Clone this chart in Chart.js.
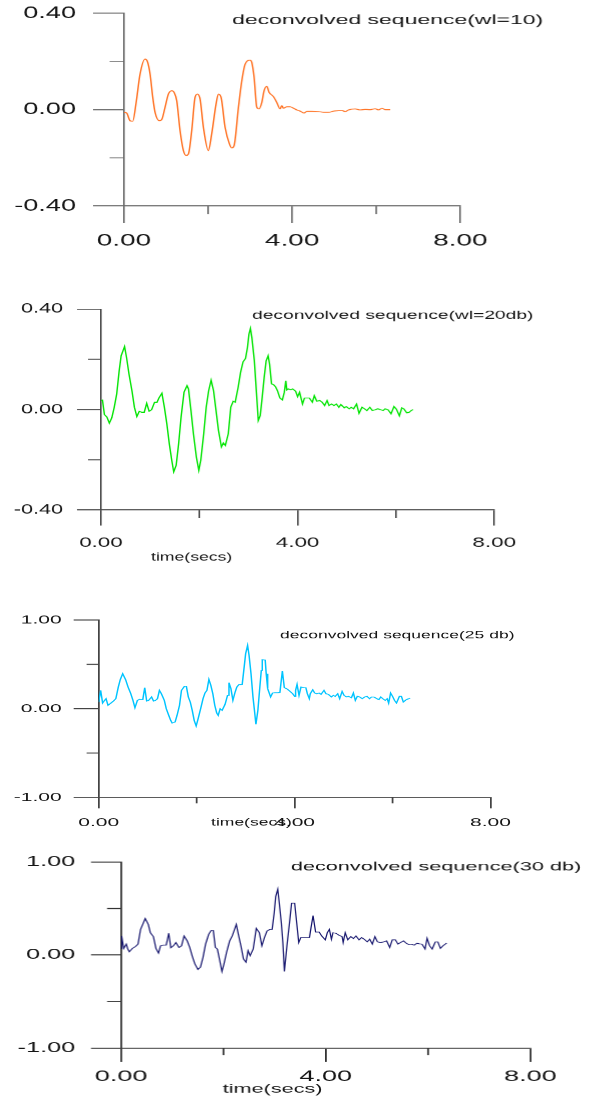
<!DOCTYPE html>
<html><head><meta charset="utf-8">
<script src="https://cdn.jsdelivr.net/npm/chart.js@4.4.1/dist/chart.umd.min.js"></script>
<style>
html,body{margin:0;padding:0;background:#fff;width:595px;height:1096px;overflow:hidden;position:relative;}
.panel{position:absolute;left:0;transform-origin:0 0;}
</style></head><body>
<div id="p1" class="panel"><canvas id="c1"></canvas></div>
<div id="p2" class="panel"><canvas id="c2"></canvas></div>
<div id="p3" class="panel"><canvas id="c3"></canvas></div>
<div id="p4" class="panel"><canvas id="c4"></canvas></div>
<script>
// ---- data (time in secs, amplitude) ----
const t1 = [0,0.063,0.143,0.206,0.286,0.381,0.5,0.556,0.619,0.683,0.738,0.841,0.897,0.976,1.056,1.135,1.19,1.254,1.333,1.413,1.476,1.532,1.611,1.69,1.746,1.81,1.889,2.008,2.087,2.19,2.246,2.31,2.405,2.508,2.563,2.619,2.722,2.802,2.881,3.0,3.04,3.095,3.159,3.214,3.278,3.333,3.397,3.452,3.556,3.635,3.714,3.754,3.794,3.873,3.952,4.032,4.111,4.19,4.286,4.349,4.468,4.627,4.786,4.905,4.984,5.103,5.183,5.262,5.341,5.5,5.619,5.738,5.857,5.976,6.056,6.135,6.214,6.333];
const v1 = [-0.011,-0.014,-0.046,-0.048,0.028,0.148,0.21,0.2,0.148,0.051,-0.011,-0.046,-0.041,0.01,0.065,0.079,0.072,0.037,-0.087,-0.17,-0.19,-0.184,-0.087,0.051,0.065,0.044,-0.073,-0.17,-0.1,0.023,0.065,0.051,-0.073,-0.142,-0.159,-0.149,0.01,0.12,0.189,0.206,0.196,0.134,0.01,0.003,0.03,0.079,0.097,0.072,0.054,0.03,0.003,0.017,0.006,0.012,0.012,0.006,-0.001,-0.006,-0.014,-0.007,-0.007,-0.008,-0.011,-0.01,-0.006,-0.004,-0.003,-0.008,-0.001,0.003,-0.001,0.001,0,0.004,-0.001,0.006,0,0];

const t2 = [0,0.03,0.07,0.12,0.17,0.22,0.27,0.32,0.37,0.41,0.48,0.52,0.57,0.63,0.68,0.73,0.78,0.83,0.88,0.93,0.98,1.03,1.09,1.14,1.18,1.24,1.29,1.34,1.39,1.44,1.48,1.53,1.58,1.63,1.69,1.75,1.78,1.83,1.88,1.94,1.99,2.03,2.09,2.14,2.19,2.24,2.29,2.34,2.39,2.45,2.49,2.53,2.59,2.64,2.69,2.73,2.79,2.84,2.89,2.94,2.98,3.01,3.04,3.07,3.12,3.16,3.20,3.24,3.28,3.32,3.36,3.40,3.43,3.47,3.51,3.55,3.59,3.64,3.69,3.73,3.76,3.78,3.81,3.86,3.90,3.96,4.00,4.04,4.10,4.14,4.19,4.24,4.30,4.34,4.39,4.45,4.50,4.55,4.60,4.64,4.69,4.74,4.79,4.84,4.88,4.95,4.99,5.05,5.09,5.14,5.20,5.25,5.31,5.36,5.41,5.47,5.52,5.58,5.63,5.69,5.74,5.78,5.84,5.90,5.96,6.01,6.07,6.12,6.16,6.22,6.27,6.31,6.35];
const v2 = [0.036,0.038,-0.020,-0.030,-0.054,-0.033,0.009,0.062,0.154,0.214,0.251,0.207,0.141,0.075,0.009,-0.028,-0.007,-0.011,-0.011,0.025,-0.007,-0.001,0.029,0.029,0.046,0.065,0.009,-0.057,-0.136,-0.202,-0.248,-0.222,-0.136,-0.030,0.069,0.095,0.082,-0.004,-0.096,-0.189,-0.242,-0.202,-0.096,0.009,0.075,0.117,0.075,-0.004,-0.083,-0.149,-0.133,-0.143,-0.096,0.009,0.033,0.029,0.088,0.148,0.190,0.203,0.247,0.300,0.323,0.286,0.194,0.075,-0.044,-0.024,0.049,0.128,0.194,0.214,0.181,0.102,0.099,0.091,0.075,0.046,0.038,0.069,0.115,0.078,0.082,0.079,0.082,0.073,0.051,0.069,0.022,0.046,0.046,0.046,0.029,0.055,0.033,0.036,0.029,0.016,0.036,0.016,0.022,0.016,0.022,0.009,0.020,0.007,0.012,0.003,0.009,0.003,0.022,-0.015,0.009,0.003,-0.004,0.009,-0.004,-0.001,0.003,-0.001,-0.004,0.003,-0.001,-0.017,0.012,0.001,-0.025,0.007,0.003,-0.013,-0.011,-0.004,0.000];

const t3 = [0,0.04,0.08,0.12,0.15,0.19,0.25,0.30,0.35,0.40,0.44,0.49,0.55,0.60,0.65,0.70,0.74,0.79,0.83,0.90,0.94,0.98,1.02,1.08,1.12,1.16,1.20,1.24,1.28,1.34,1.38,1.43,1.47,1.50,1.56,1.60,1.65,1.69,1.75,1.79,1.83,1.87,1.91,1.95,1.99,2.03,2.09,2.13,2.17,2.21,2.25,2.29,2.33,2.37,2.41,2.44,2.48,2.52,2.58,2.63,2.66,2.70,2.74,2.78,2.82,2.86,2.93,2.97,3.00,3.04,3.07,3.11,3.15,3.18,3.21,3.25,3.29,3.32,3.34,3.40,3.42,3.45,3.51,3.55,3.60,3.66,3.70,3.72,3.75,3.79,3.85,3.90,3.96,4.00,4.02,4.05,4.09,4.13,4.19,4.23,4.26,4.30,4.32,4.37,4.41,4.45,4.50,4.54,4.60,4.64,4.69,4.75,4.79,4.83,4.88,4.92,4.97,5.01,5.06,5.10,5.16,5.20,5.24,5.28,5.33,5.38,5.43,5.48,5.53,5.57,5.62,5.68,5.72,5.76,5.80,5.85,5.89,5.92,5.96,6.00,6.04,6.08,6.14,6.18,6.22,6.28,6.33,6.36];
const v3 = [0.075,0.207,0.064,0.094,0.113,0.038,0.064,0.086,0.113,0.244,0.327,0.395,0.327,0.244,0.177,0.094,0.011,0.094,0.105,0.102,0.237,0.086,0.094,0.132,0.086,0.094,0.113,0.207,0.169,0.094,0.000,-0.075,-0.132,-0.162,-0.150,-0.075,0.038,0.207,0.252,0.252,0.132,0.075,-0.019,-0.132,-0.195,-0.113,0.019,0.113,0.177,0.207,0.331,0.263,0.169,0.038,-0.049,-0.075,0.000,-0.019,0.049,0.150,0.293,0.226,0.094,0.177,0.244,0.271,0.274,0.470,0.620,0.714,0.602,0.395,0.132,-0.019,-0.177,-0.019,0.244,0.432,0.553,0.549,0.395,0.226,0.132,0.177,0.180,0.180,0.184,0.282,0.425,0.237,0.222,0.199,0.169,0.139,0.207,0.274,0.150,0.244,0.237,0.237,0.169,0.113,0.169,0.214,0.177,0.169,0.177,0.162,0.207,0.169,0.162,0.132,0.150,0.139,0.169,0.113,0.195,0.150,0.132,0.139,0.124,0.177,0.094,0.139,0.132,0.113,0.132,0.139,0.113,0.132,0.132,0.113,0.102,0.132,0.113,0.094,0.113,0.064,0.177,0.139,0.094,0.064,0.139,0.139,0.075,0.102,0.113,0.120];

const t4 = [0,0.01,0.05,0.10,0.13,0.16,0.22,0.28,0.33,0.38,0.43,0.47,0.53,0.57,0.63,0.68,0.73,0.77,0.82,0.88,0.93,0.97,1.02,1.07,1.13,1.18,1.23,1.29,1.34,1.39,1.44,1.50,1.55,1.60,1.65,1.71,1.76,1.80,1.84,1.88,1.92,1.97,2.01,2.06,2.12,2.17,2.25,2.29,2.34,2.39,2.44,2.48,2.52,2.58,2.64,2.70,2.75,2.80,2.85,2.91,2.95,2.99,3.02,3.06,3.09,3.13,3.16,3.19,3.24,3.29,3.33,3.39,3.43,3.47,3.51,3.59,3.68,3.71,3.75,3.80,3.87,3.92,3.99,4.03,4.07,4.11,4.14,4.20,4.26,4.32,4.34,4.38,4.43,4.49,4.54,4.59,4.65,4.70,4.75,4.81,4.86,4.91,4.96,5.01,5.07,5.13,5.19,5.25,5.30,5.36,5.41,5.46,5.52,5.57,5.62,5.67,5.73,5.78,5.83,5.88,5.94,5.98,6.03,6.08,6.14,6.19,6.24,6.29,6.36];
const v4 = [0.071,0.205,0.071,0.117,0.064,0.035,0.071,0.092,0.117,0.276,0.339,0.392,0.329,0.240,0.198,0.071,0.021,0.099,0.106,0.106,0.233,0.078,0.099,0.134,0.081,0.099,0.205,0.152,0.081,-0.014,-0.095,-0.155,-0.131,-0.025,0.117,0.223,0.265,0.265,0.081,0.064,-0.042,-0.177,-0.095,0.028,0.152,0.205,0.329,0.223,0.099,-0.042,-0.078,0.046,-0.007,0.064,0.286,0.240,0.099,0.187,0.258,0.276,0.276,0.452,0.629,0.707,0.558,0.346,0.134,-0.177,0.099,0.346,0.558,0.558,0.346,0.134,0.187,0.187,0.187,0.293,0.424,0.247,0.247,0.205,0.163,0.240,0.276,0.170,0.240,0.233,0.212,0.198,0.134,0.240,0.163,0.198,0.177,0.205,0.163,0.187,0.170,0.141,0.170,0.117,0.198,0.141,0.134,0.141,0.152,0.081,0.163,0.163,0.117,0.134,0.152,0.127,0.113,0.117,0.106,0.127,0.120,0.117,0.064,0.180,0.099,0.064,0.141,0.141,0.071,0.099,0.127];

const titles = ['deconvolved sequence(wl=10)','deconvolved sequence(wl=20db)','deconvolved sequence(25 db)','deconvolved sequence(30 db)'];
const xAxisTitle = 'time(secs)';
const xRange = [0, 8], xStep = 2, xMajorStep = 4;
const yRangeSmall = [-0.4, 0.4], yStepSmall = 0.2, yMajorSmall = 0.4;
const yRangeLarge = [-1, 1], yStepLarge = 0.5, yMajorLarge = 1;

const FONT = "'Liberation Sans', Arial, Helvetica, sans-serif";
const TEXT = '#151515';

function isMajor(v, m){ const r = v / m; return Math.abs(r - Math.round(r)) < 1e-6; }
function fmt(v){ return (Math.abs(v) < 1e-9 ? 0 : v).toFixed(2); }

const panels = [
 {cv:'c1', box:'p1', s:1.64, top:-6.8, height:262.3, padTop:20.3, left:75.6, padRight:82.3, xH:50, lw:0.9,
  t:t1, v:v1, color:'#ff7020', smooth:true, yr:yRangeSmall, ys:yStepSmall, ym:yMajorSmall,
  axisColor:'#6a6a6a', yTickMajor:18.9, yTickMinor:8.8, yPad:10.4, yFont:16.5,
  xTickMajor:17, xTickMinor:8, xPad:7.8, xFont:17,
  title:titles[0], titleX:141.5, titleY:30.8, titleFont:14, axisTitle:null},
 {cv:'c2', box:'p2', s:1.6, top:290, height:274.5, padTop:19, left:63.1, padRight:63.1, xH:55, lw:0.9,
  t:t2, v:v2, color:'#00e400', smooth:false, yr:yRangeSmall, ys:yStepSmall, ym:yMajorSmall,
  axisColor:'#474747', yTickMajor:15, yTickMinor:8.1, yPad:8.75, yFont:13.5,
  xTickMajor:15.5, xTickMinor:8, xPad:9.1, xFont:14,
  title:titles[1], titleX:157.5, titleY:29, titleFont:12, axisTitle:xAxisTitle, axX:94.4, axY:267, axFont:11},
 {cv:'c3', box:'p3', s:1.75, top:600, height:237, padTop:20, left:56.4, padRight:59.7, xH:40, lw:0.85,
  t:t3, v:v3, color:'#00c4ff', smooth:false, yr:yRangeLarge, ys:yStepLarge, ym:yMajorLarge,
  axisColor:'#444444', yTickMajor:14.3, yTickMinor:6.9, yPad:6.9, yFont:12,
  xTickMajor:11, xTickMinor:6, xPad:7.3, xFont:12,
  title:titles[2], titleX:160, titleY:38, titleFont:10, axisTitle:xAxisTitle, axX:120.6, axY:222.5, axFont:10},
 {cv:'c4', box:'p4', s:1.8, top:841, height:255, padTop:21, left:67.1, padRight:36.7, xH:48, lw:0.7,
  t:t4, v:v4, color:'#16166e', smooth:false, yr:yRangeLarge, ys:yStepLarge, ym:yMajorLarge,
  axisColor:'#333333', yTickMajor:16.7, yTickMinor:7.8, yPad:8.7, yFont:14,
  xTickMajor:14, xTickMinor:7, xPad:6, xFont:15,
  title:titles[3], titleX:161.1, titleY:29.7, titleFont:12, axisTitle:xAxisTitle, axX:123.3, axY:248.5, axFont:12}
];

function makeDecor(p){
  return {
    id:'decor_' + p.cv,
    afterDraw(chart){
      const ctx = chart.ctx, a = chart.chartArea, xs = chart.scales.x, ys = chart.scales.y;
      ctx.save();
      ctx.strokeStyle = p.axisColor; ctx.lineWidth = 1;
      ctx.beginPath();
      ys.ticks.forEach(tk => {
        if (!isMajor(tk.value, p.ym)) {
          const y = ys.getPixelForValue(tk.value);
          ctx.moveTo(a.left - p.yTickMinor, y); ctx.lineTo(a.left, y);
        }
      });
      xs.ticks.forEach(tk => {
        if (!isMajor(tk.value, xMajorStep)) {
          const x = xs.getPixelForValue(tk.value);
          ctx.moveTo(x, a.bottom); ctx.lineTo(x, a.bottom + p.xTickMinor);
        }
      });
      ctx.stroke();
      ctx.fillStyle = TEXT; ctx.textAlign = 'left'; ctx.textBaseline = 'alphabetic';
      ctx.font = p.titleFont + 'px ' + FONT;
      ctx.fillText(p.title, p.titleX, p.titleY);
      if (p.axisTitle) {
        ctx.font = p.axFont + 'px ' + FONT;
        ctx.textBaseline = 'middle';
        ctx.fillText(p.axisTitle, p.axX, p.axY);
      }
      ctx.restore();
    }
  };
}

panels.forEach(p => {
  const box = document.getElementById(p.box);
  const W = 595 / p.s;
  box.style.top = p.top + 'px';
  box.style.width = W + 'px';
  box.style.height = p.height + 'px';
  box.style.transform = 'scaleX(' + p.s + ')';
  const pts = p.t.map((x, i) => ({x: x, y: p.v[i]}));
  new Chart(document.getElementById(p.cv), {
    type: 'line',
    data: { datasets: [{ data: pts, borderColor: p.color, borderWidth: p.lw, pointRadius: 0, fill: false,
      tension: 0, cubicInterpolationMode: p.smooth ? 'monotone' : 'default' }] },
    options: {
      responsive: true, maintainAspectRatio: false, animation: false, devicePixelRatio: p.s,
      events: [],
      layout: { padding: { top: p.padTop, right: p.padRight, left: 0, bottom: 0 } },
      plugins: { legend: { display: false }, tooltip: { enabled: false }, title: { display: false } },
      scales: {
        x: {
          type: 'linear', min: xRange[0], max: xRange[1],
          ticks: { stepSize: xStep, autoSkip: false, maxRotation: 0, padding: p.xPad, color: TEXT,
            font: { family: FONT, size: p.xFont }, callback: v => isMajor(v, xMajorStep) ? fmt(v) : '' },
          grid: { drawOnChartArea: false, drawTicks: true, tickLength: p.xTickMajor, tickWidth: 1,
            tickColor: c => (c.tick && isMajor(c.tick.value, xMajorStep)) ? p.axisColor : 'rgba(0,0,0,0)' },
          border: { display: true, color: p.axisColor, width: 1 },
          afterFit: s => { s.height = p.xH; }
        },
        y: {
          type: 'linear', min: p.yr[0], max: p.yr[1],
          ticks: { stepSize: p.ys, autoSkip: false, padding: p.yPad, color: TEXT,
            font: { family: FONT, size: p.yFont }, callback: v => isMajor(v, p.ym) ? fmt(v) : '' },
          grid: { drawOnChartArea: false, drawTicks: true, tickLength: p.yTickMajor, tickWidth: 1,
            tickColor: c => (c.tick && isMajor(c.tick.value, p.ym)) ? p.axisColor : 'rgba(0,0,0,0)' },
          border: { display: true, color: p.axisColor, width: 1 },
          afterFit: s => { s.width = p.left; }
        }
      }
    },
    plugins: [makeDecor(p)]
  });
});
</script>
</body></html>
